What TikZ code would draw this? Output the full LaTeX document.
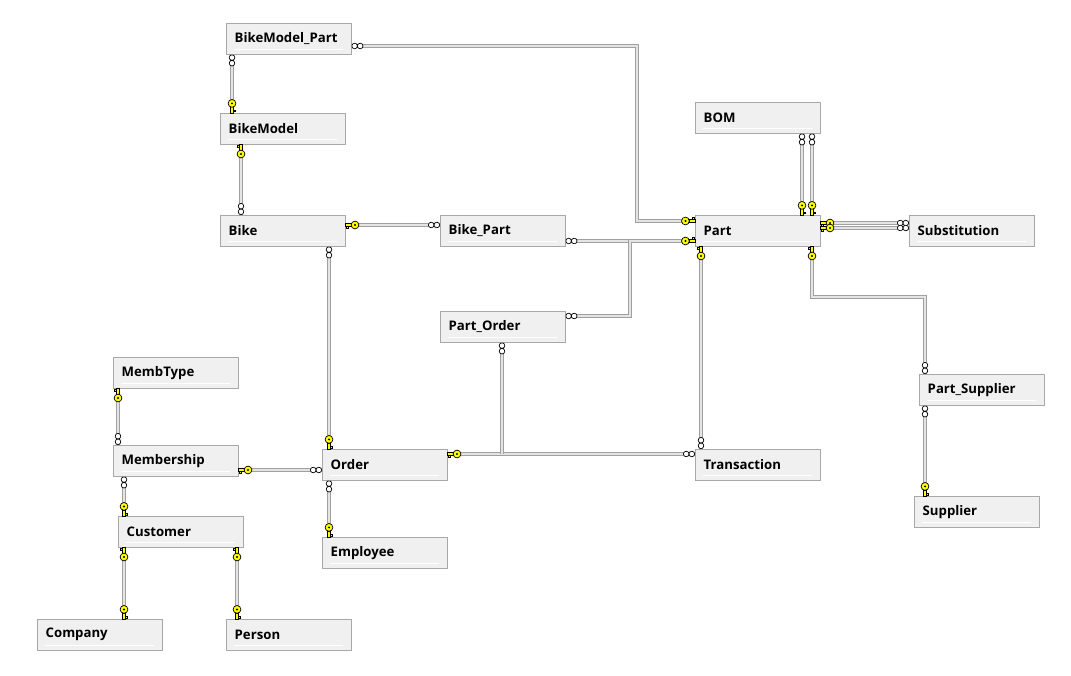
\documentclass[tikz,border=0pt]{standalone}
\usepackage{fontspec}
\setmainfont{Open Sans}
\definecolor{boxfill}{HTML}{F0F0F0}
\definecolor{boxline}{HTML}{A8A8A8}
\definecolor{lndark}{HTML}{A0A0A0}
\definecolor{lnlight}{HTML}{E4E4E4}
\definecolor{keyyel}{HTML}{FFFF00}
\tikzset{
  pkkey/.pic={
    \draw[fill=keyyel,line width=0.6pt](0,-1.3)rectangle(6.2,1.3);
    \draw[fill=keyyel,line width=0.6pt](1.2,1.3)rectangle(2.8,3.6);
    \draw[fill=keyyel,line width=0.7pt](9.6,0)circle(3.9);
    \fill(9.6,0)circle(1.1);
  },
  fkinf/.pic={
    \draw[fill=white,line width=0.7pt](3.2,0)circle(2.8)(8.8,0)circle(2.8);
  }
}
\begin{document}
\begin{tikzpicture}[x=1pt,y=-1pt,
    tbl/.style={draw=boxline,fill=boxfill,anchor=north west,minimum height=31pt,
      text width=108pt,inner xsep=8.5pt,align=left,font=\bfseries\fontsize{13.2}{15}\selectfont,
      path picture={\draw[white,line width=0.8pt]([xshift=8pt,yshift=4.5pt]path picture bounding box.south west)--([xshift=-8pt,yshift=4.5pt]path picture bounding box.south east);}},
    conn/.style={draw=lndark,double=lnlight,line width=1.3pt,double distance=1.3pt}]
  \useasboundingbox[fill=white](0,0)rectangle(1071,676);
  % tables
  \node[tbl](bmpart)at(226,23){BikeModel\_Part};
  \node[tbl](bmodel)at(220,113){BikeModel};
  \node[tbl](bike)at(220,215){Bike};
  \node[tbl](bikepart)at(440,215){Bike\_Part};
  \node[tbl](part)at(695,215){Part};
  \node[tbl](bom)at(695,102){BOM};
  \node[tbl](subst)at(909,215){Substitution};
  \node[tbl](partorder)at(440,311){Part\_Order};
  \node[tbl](partsup)at(919,374){Part\_Supplier};
  \node[tbl](supplier)at(914,496){Supplier};
  \node[tbl](membtype)at(113,357){MembType};
  \node[tbl](membership)at(113,445){Membership};
  \node[tbl](order)at(322,449){Order};
  \node[tbl](trans)at(695,449){Transaction};
  \node[tbl](customer)at(118,516){Customer};
  \node[tbl](employee)at(322,537){Employee};
  \node[tbl](company)at(37,619){Company};
  \node[tbl](person)at(226,619){Person};
  % relationships
  \draw[conn](bmpart.east|-0,46)--(637,46)--(637,221)--(part.west|-0,221);
  \draw[conn](232,0|-bmpart.south)--(232,0|-bmodel.north);
  \draw[conn](241,0|-bmodel.south)--(241,0|-bike.north);
  \draw[conn](bike.east|-0,225)--(bikepart.west|-0,225);
  \draw[conn](bikepart.east|-0,241)--(part.west|-0,241);
  \draw[conn](partorder.east|-0,316)--(630,316)--(630,241)--(part.west|-0,241);
  \draw[conn](802,0|-bom.south)--(802,0|-part.north);
  \draw[conn](812,0|-bom.south)--(812,0|-part.north);
  \draw[conn](part.east|-0,223)--(subst.west|-0,223);
  \draw[conn](part.east|-0,228)--(subst.west|-0,228);
  \draw[conn](812,0|-part.south)--(812,297)--(925,297)--(925,0|-partsup.north);
  \draw[conn](701,0|-part.south)--(701,0|-trans.north);
  \draw[conn](925,0|-partsup.south)--(925,0|-supplier.north);
  \draw[conn](329,0|-bike.south)--(329,0|-order.north);
  \draw[conn](order.east|-0,454)--(trans.west|-0,454);
  \draw[conn](502,0|-partorder.south)--(502,454);
  \draw[conn](membership.east|-0,470)--(order.west|-0,470);
  \draw[conn](118,0|-membtype.south)--(118,0|-membership.north);
  \draw[conn](124,0|-membership.south)--(124,0|-customer.north);
  \draw[conn](329,0|-order.south)--(329,0|-employee.north);
  \draw[conn](124,0|-customer.south)--(124,0|-company.north);
  \draw[conn](237,0|-customer.south)--(237,0|-person.north);
  % line ends
  \pic at(bmpart.east|-0,46){fkinf};
  \pic[rotate=180]at(part.west|-0,221){pkkey};
  \pic[rotate=-90]at(232,0|-bmpart.south){fkinf};
  \pic[rotate=90]at(232,0|-bmodel.north){pkkey};
  \pic[rotate=-90]at(241,0|-bmodel.south){pkkey};
  \pic[rotate=90]at(241,0|-bike.north){fkinf};
  \pic at(bike.east|-0,225){pkkey};
  \pic[rotate=180]at(bikepart.west|-0,225){fkinf};
  \pic at(bikepart.east|-0,241){fkinf};
  \pic[rotate=180]at(part.west|-0,241){pkkey};
  \pic at(partorder.east|-0,316){fkinf};
  \pic[rotate=-90]at(802,0|-bom.south){fkinf};
  \pic[rotate=-90]at(812,0|-bom.south){fkinf};
  \pic[rotate=90]at(802,0|-part.north){pkkey};
  \pic[rotate=90]at(812,0|-part.north){pkkey};
  \pic at(part.east|-0,223){pkkey};
  \pic at(part.east|-0,228){pkkey};
  \pic[rotate=180]at(subst.west|-0,223){fkinf};
  \pic[rotate=180]at(subst.west|-0,228){fkinf};
  \pic[rotate=-90]at(812,0|-part.south){pkkey};
  \pic[rotate=90]at(925,0|-partsup.north){fkinf};
  \pic[rotate=-90]at(701,0|-part.south){pkkey};
  \pic[rotate=90]at(701,0|-trans.north){fkinf};
  \pic[rotate=-90]at(925,0|-partsup.south){fkinf};
  \pic[rotate=90]at(925,0|-supplier.north){pkkey};
  \pic[rotate=-90]at(329,0|-bike.south){fkinf};
  \pic[rotate=90]at(329,0|-order.north){pkkey};
  \pic at(order.east|-0,454){pkkey};
  \pic[rotate=180]at(trans.west|-0,454){fkinf};
  \pic[rotate=-90]at(502,0|-partorder.south){fkinf};
  \pic at(membership.east|-0,470){pkkey};
  \pic[rotate=180]at(order.west|-0,470){fkinf};
  \pic[rotate=-90]at(118,0|-membtype.south){pkkey};
  \pic[rotate=90]at(118,0|-membership.north){fkinf};
  \pic[rotate=-90]at(124,0|-membership.south){fkinf};
  \pic[rotate=90]at(124,0|-customer.north){pkkey};
  \pic[rotate=-90]at(329,0|-order.south){fkinf};
  \pic[rotate=90]at(329,0|-employee.north){pkkey};
  \pic[rotate=-90]at(124,0|-customer.south){pkkey};
  \pic[rotate=90]at(124,0|-company.north){pkkey};
  \pic[rotate=-90]at(237,0|-customer.south){pkkey};
  \pic[rotate=90]at(237,0|-person.north){pkkey};
\end{tikzpicture}
\end{document}
